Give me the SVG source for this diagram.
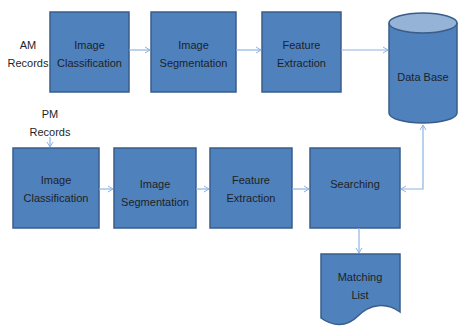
<svg xmlns="http://www.w3.org/2000/svg" width="458" height="328" viewBox="0 0 458 328">
<defs>
<marker id="ah" markerWidth="8" markerHeight="8" refX="6" refY="4" orient="auto-start-reverse" markerUnits="userSpaceOnUse">
<polyline points="1,1 6,4 1,7" fill="none" stroke="#8EB4E3" stroke-width="1"/>
</marker>
<style>
.box{fill:#4F81BD;stroke:#385D8A;stroke-width:1.5}
.top{fill:#95B3D7;stroke:#385D8A;stroke-width:1.5}
.t{font-family:"Liberation Sans",Arial,sans-serif;font-size:11px;fill:#1F1F1F;text-anchor:middle}
.c{fill:none;stroke:#8EB4E3;stroke-width:1.2}
</style>
</defs>
<rect width="458" height="328" fill="#FFFFFF"/>
<text class="t" x="28" y="49">AM</text>
<text class="t" x="28" y="67">Records</text>
<text class="t" x="50" y="118">PM</text>
<text class="t" x="50" y="136">Records</text>
<g id="n1"><rect class="box" x="50" y="12" width="79" height="80"/><text class="t" x="89.5" y="49">Image</text><text class="t" x="89.5" y="67">Classification</text></g>
<g id="n2"><rect class="box" x="151" y="12" width="85" height="80"/><text class="t" x="193.5" y="49">Image</text><text class="t" x="193.5" y="67">Segmentation</text></g>
<g id="n3"><rect class="box" x="262" y="12" width="79" height="80"/><text class="t" x="301.5" y="49">Feature</text><text class="t" x="301.5" y="67">Extraction</text></g>
<g id="db"><path class="box" d="M389,23 V113 A34,10 0 0 0 457,113 V23"/><ellipse class="top" cx="423" cy="23" rx="34" ry="10"/><text class="t" x="423" y="81">Data Base</text></g>
<g id="n4"><rect class="box" x="13" y="148" width="86" height="80"/><text class="t" x="56" y="184">Image</text><text class="t" x="56" y="202">Classification</text></g>
<g id="n5"><rect class="box" x="114" y="148" width="82" height="80"/><text class="t" x="155" y="188">Image</text><text class="t" x="155" y="206">Segmentation</text></g>
<g id="n6"><rect class="box" x="210" y="148" width="82" height="80"/><text class="t" x="251" y="184">Feature</text><text class="t" x="251" y="202">Extraction</text></g>
<g id="n7"><rect class="box" x="310" y="148" width="90" height="80"/><text class="t" x="355" y="188">Searching</text></g>
<g id="n8"><path class="box" d="M321,254 H400 V312 C386,302 370,304 358,316 C346,328 332,326 321,318 Z"/><text class="t" x="360" y="281">Matching</text><text class="t" x="360" y="299">List</text></g>
<g id="connectors">
<line class="c" x1="129" y1="50" x2="150" y2="50" marker-end="url(#ah)"/>
<line class="c" x1="236" y1="50" x2="261" y2="50" marker-end="url(#ah)"/>
<line class="c" x1="341" y1="50" x2="388" y2="50" marker-end="url(#ah)"/>
<line class="c" x1="50" y1="137" x2="50" y2="147" marker-end="url(#ah)"/>
<line class="c" x1="99" y1="189" x2="113" y2="189" marker-end="url(#ah)"/>
<line class="c" x1="196" y1="189" x2="209" y2="189" marker-end="url(#ah)"/>
<line class="c" x1="292" y1="189" x2="309" y2="189" marker-end="url(#ah)"/>
<polyline class="c" points="423,125 423,189 401,189" marker-start="url(#ah)" marker-end="url(#ah)"/>
<line class="c" x1="359" y1="228" x2="359" y2="253" marker-end="url(#ah)"/>
</g>
</svg>
